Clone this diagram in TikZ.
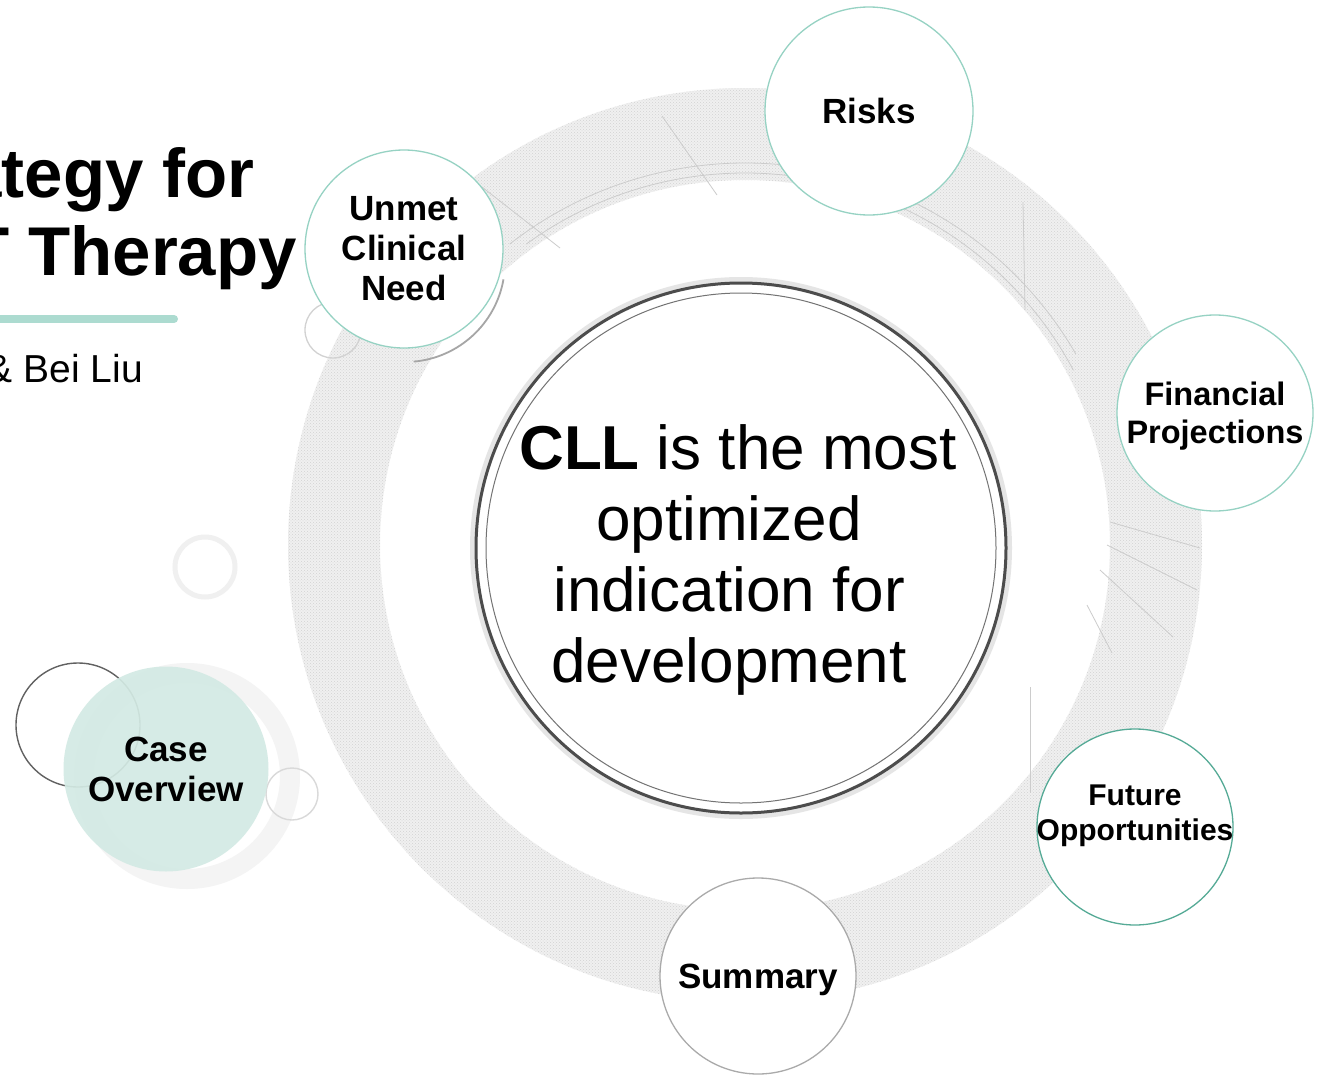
\documentclass[tikz,border=0pt]{standalone}
\usepackage{fontspec}
\setmainfont{Liberation Sans}
\usetikzlibrary{patterns}
\definecolor{tealline}{RGB}{150,210,195}
\definecolor{tealdark}{RGB}{85,170,150}
\definecolor{tealfill}{RGB}{211,234,228}
\definecolor{tealbar}{RGB}{172,219,208}
\definecolor{ringgray}{RGB}{240,240,240}
\definecolor{summaryline}{RGB}{170,170,170}
\begin{document}
\begin{tikzpicture}[x=1pt,y=-1pt,
  topic/.style={circle, draw=tealline, line width=1.3pt, fill=white, inner sep=0pt, align=center,
    font=\bfseries\fontsize{35}{40}\selectfont},
  plaintext/.style={inner sep=0pt, align=center},
  ringline/.style={gray!40, line width=0.8pt},
]
\useasboundingbox (0,0) rectangle (1326,1076);
\clip (0,0) rectangle (1326,1076);
\fill[white] (0,0) rectangle (1326,1076);

% large textured ring
\coordinate (rc) at (745,545);
\fill[ringgray, even odd rule] (rc) circle[radius=457pt] (rc) circle[radius=365pt];
\fill[pattern=crosshatch dots, pattern color=gray!35, even odd rule] (rc) circle[radius=457pt] (rc) circle[radius=365pt];
\draw[ringline] (rc) ++(128:382pt) arc[start angle=128, end angle=30, radius=382pt];
\draw[ringline] (rc) ++(126:372pt) arc[start angle=126, end angle=28, radius=372pt];
\draw[ringline] (662,116) -- (717,195);
\draw[ringline] (482,187) -- (560,248);
\draw[ringline] (1023,202) -- (1025,310);
\draw[ringline] (1110,522) -- (1200,548);
\draw[ringline] (1107,545) -- (1197,590);
\draw[ringline] (1100,570) -- (1173,637);
\draw[ringline] (1087,605) -- (1112,653);
\draw[ringline] (1030,687) -- (1030,793);

% decorations left
\draw[gray!9, line width=20pt] (187,776) circle[radius=103pt];
\draw[gray!12, line width=5pt] (205,567) circle[radius=30pt];
\draw[black!62, line width=1.4pt] (78,725) circle[radius=62pt];
\draw[gray!30, line width=1.4pt] (292,794) circle[radius=26pt];
\draw[gray!35, line width=1.3pt] (333,330) circle[radius=28pt];
\draw[gray!70, line width=1.8pt] (405,262) ++(-10:100pt) arc[start angle=-10, end angle=-85, radius=100pt];

% title fragments
\node[plaintext, anchor=base east, font=\bfseries\fontsize{69}{78}\selectfont] (t1) at (255,197) {ategy for};
\node[plaintext, anchor=base east, font=\bfseries\fontsize{69}{78}\selectfont] (t2) at (297,275) {T Therapy};
\draw[tealbar, line width=8pt, line cap=round] (-10,319) -- (174,319);
\node[plaintext, anchor=base east, font=\fontsize{39}{44}\selectfont] (authors) at (143,382) {\& Bei Liu};

% center circle
\draw[black!10, line width=6pt] (741,548) circle[radius=268pt];
\node[circle, draw=black!70, line width=3pt, minimum size=530pt, inner sep=0pt] (cllring) at (741,548) {};
\draw[black!55, line width=1pt] (741,548) circle[radius=255pt];
\node[plaintext, font=\fontsize{62}{71}\selectfont] (cll) at (729,560)
  {{\bfseries CLL} is the most\hspace*{-18pt}\\optimized\\indication for\\development};

% topic circles
\node[topic, minimum size=208pt] (risks) at (869,111) {Risks};
\node[topic, minimum size=198pt] (unmet) at (404,249) {Unmet\\Clinical\\Need};
\node[topic, minimum size=196pt, text depth=0pt, font=\bfseries\fontsize{32.5}{38}\selectfont] (fin) at (1215,413) {Financial\\Projections};
\node[topic, draw=tealdark, minimum size=196pt] (future) at (1135,827) {};
\node[plaintext, font=\bfseries\fontsize{30}{35}\selectfont] (futuretext) at (1135,816) {Future\\Opportunities};
\node[topic, draw=summaryline, minimum size=196pt, text depth=0pt] (summary) at (758,976) {Summary};
\node[topic, draw=none, fill=tealfill, fill opacity=0.92, text opacity=1, minimum size=205pt] (case) at (166,769) {Case\\Overview};
\end{tikzpicture}
\end{document}
